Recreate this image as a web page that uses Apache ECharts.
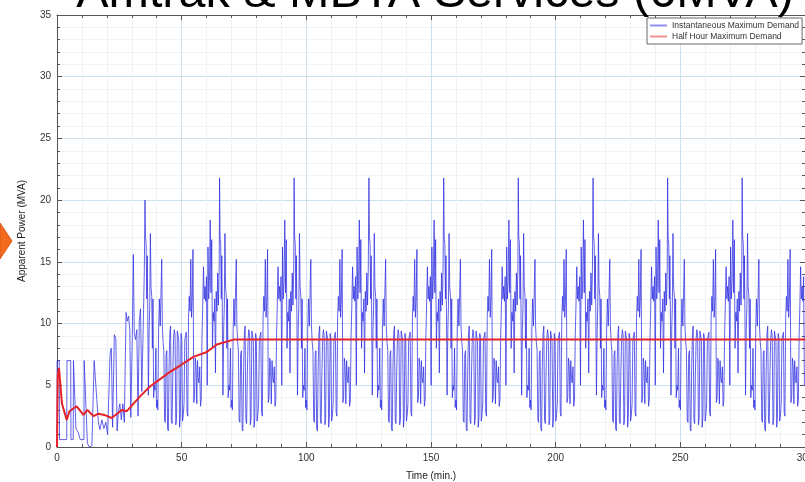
<!DOCTYPE html>
<html>
<head>
<meta charset="utf-8">
<script src="https://cdn.jsdelivr.net/npm/echarts@6/dist/echarts.min.js"></script>
<style>
html,body{margin:0;padding:0;background:#fff;overflow:hidden;width:805px;height:482px;}
#chart{width:805px;height:482px;}
</style>
</head>
<body>
<div id="chart"></div>
<script>
// ---- text ----
const titleText = 'Amtrak & MBTA Services (6MVA)';
const xName = 'Time (min.)';
const yName = 'Apparent Power (MVA)';
const seriesNames = ['Instantaneous Maximum Demand', 'Half Hour Maximum Demand'];

// ---- blue: opening segment (0-35 min) ----
const initTimes  = [0.0, 0.05, 0.9, 1.0, 3.9, 4.0, 5.5, 5.6, 6.5, 6.6, 7.6, 8.5, 9.3, 10.8, 10.9, 12.2, 13.0, 14.0, 14.8, 14.9, 16.6, 17.2, 18.0, 18.8, 19.6, 20.3, 21.3, 21.8, 22.3, 23.0, 23.6, 24.1, 24.6, 25.2, 25.8, 26.4, 27.0, 27.7, 28.2, 28.7, 29.2, 29.6, 30.2, 30.6, 31.0, 31.5, 32.0, 32.5, 33.0, 33.5, 34.0, 34.5, 35.0];
const initValues = [0.0, 7.0, 7.0, 0.6, 0.6, 7.0, 7.0, 0.6, 0.6, 7.0, 1.5, 1.2, 0.6, 0.6, 7.0, 0.3, 0.0, 0.1, 0.2, 7.0, 2.0, 1.4, 2.2, 1.5, 2.0, 1.0, 7.6, 8.0, 1.6, 9.1, 8.8, 1.3, 2.8, 3.5, 2.2, 3.5, 2.0, 10.9, 10.2, 10.6, 9.5, 2.4, 9.0, 15.6, 9.2, 8.7, 9.5, 2.5, 10.2, 11.2, 4.5, 9.0, 14.0];

// ---- blue: one repeating 30-min cycle (offset from its peak) ----
const cycleOffsets = [0.00, 0.20, 0.45, 0.70, 0.90, 1.10, 1.35, 1.65, 1.90, 2.15, 2.40, 2.70, 2.95, 3.20, 3.45, 3.75, 4.05, 4.35, 4.60, 4.90, 5.15, 5.45, 5.75, 6.10, 6.40, 6.70, 6.95, 7.25, 7.55, 7.85, 8.15, 8.45, 8.75, 9.05, 9.35, 9.65, 9.95, 10.25, 10.55, 10.85, 11.15, 11.45, 11.75, 12.05, 12.35, 12.65, 12.95, 13.25, 13.55, 13.85, 14.15, 14.45, 14.75, 15.05, 15.35, 15.65, 15.95, 16.25, 16.55, 16.85, 17.15, 17.45, 17.75, 18.05, 18.35, 18.65, 18.95, 19.25, 19.55, 19.85, 20.15, 20.45, 20.75, 21.05, 21.35, 21.65, 21.95, 22.25, 22.55, 22.85, 23.15, 23.45, 23.75, 24.05, 24.35, 24.65, 24.95, 25.25, 25.55, 25.85, 26.15, 26.45, 26.75, 27.05, 27.35, 27.65, 27.95, 28.25, 28.55, 28.85, 29.15, 29.45, 29.75];
const cycleValues  = [21.8, 17.0, 16.5, 12.0, 15.5, 11.0, 4.2, 9.5, 11.5, 17.3, 13.0, 12.2, 8.0, 12.0, 4.0, 5.0, 4.6, 8.0, 3.2, 3.8, 3.0, 9.5, 12.0, 9.8, 12.5, 15.2, 9.8, 8.5, 7.8, 2.2, 2.0, 7.5, 7.8, 1.5, 1.3, 6.5, 9.2, 9.8, 2.2, 1.9, 6.0, 8.8, 9.5, 9.0, 1.8, 2.3, 9.4, 9.0, 8.6, 1.6, 2.4, 9.2, 8.8, 2.1, 2.6, 3.5, 8.7, 9.0, 9.3, 2.8, 2.5, 10.5, 12.2, 11.0, 15.2, 10.5, 12.0, 16.0, 3.6, 4.0, 7.2, 6.5, 3.5, 7.0, 5.5, 5.2, 6.5, 3.3, 3.8, 9.0, 11.5, 14.6, 12.0, 13.0, 11.8, 13.8, 5.0, 16.2, 12.0, 13.5, 18.4, 12.5, 16.8, 8.0, 10.9, 10.2, 12.0, 6.0, 12.6, 11.0, 14.1, 11.5, 14.5];
const cycleStarts = [35.3, 65.2, 95.1, 125.1, 155.1, 185.0, 215.0, 244.9, 274.8];
const cyclePeaks  = [20.0, 21.8, 21.8, 21.8, 21.8, 21.8, 21.8, 21.8, 21.8];

// ---- red: half hour maximum demand ----
const redTimes  = [0.0, 0.3, 0.8, 2.0, 3.9, 5.0, 7.9, 10.6, 12.2, 14.6, 16.6, 19.0, 21.9, 26.0, 28.0, 30.6, 33.3, 37.3, 40.0, 44.7, 49.4, 54.7, 60.1, 64.1, 70.8, 300.0];
const redValues = [0.0, 5.8, 6.4, 3.5, 2.2, 2.9, 3.3, 2.6, 3.0, 2.5, 2.7, 2.6, 2.35, 3.0, 2.9, 3.5, 4.1, 4.9, 5.3, 6.0, 6.6, 7.3, 7.7, 8.3, 8.7, 8.7];

// ---- axis settings ----
const xMin = 0, xMax = 300, xStep = 50;
const yMin = 0, yMax = 35, yStep = 5;

// build series data from arrays
const blueData = [];
initTimes.forEach((t, i) => blueData.push([t, initValues[i]]));
cycleStarts.forEach((s, c) => {
  cycleOffsets.forEach((o, j) => {
    const t = +(s + o).toFixed(2);
    if (t <= xMax) blueData.push([t, j === 0 ? cyclePeaks[c] : cycleValues[j]]);
  });
});
const redData = redTimes.map((t, i) => [t, redValues[i]]);

const font = 'Liberation Sans, Arial, sans-serif';
const axisCol = '#555';
const chart = echarts.init(document.getElementById('chart'), null, {renderer: 'canvas', width: 805, height: 482});
const boxAxisX = (pos, show) => ({
  type: 'value', min: xMin, max: xMax, interval: xStep, position: pos,
  name: show ? xName : '', nameLocation: 'middle', nameGap: 24,
  nameTextStyle: {fontFamily: font, fontSize: 10, color: '#222'},
  axisLine: {show: true, onZero: false, lineStyle: {color: axisCol, width: 1}},
  axisTick: {show: true, inside: true, length: 5, lineStyle: {color: axisCol}},
  minorTick: {show: true, splitNumber: 5, length: 3, lineStyle: {color: axisCol}},
  axisLabel: {show: show, margin: 6, fontFamily: font, fontSize: 10, color: '#333'},
  splitLine: {show: show, lineStyle: {color: '#cfe1ec', width: 1}},
  minorSplitLine: {show: show, lineStyle: {color: '#eef3f7', width: 1}}
});
const boxAxisY = (pos, show) => ({
  type: 'value', min: yMin, max: yMax, interval: yStep, position: pos,
  name: show ? yName : '', nameLocation: 'middle', nameGap: 30,
  nameTextStyle: {fontFamily: font, fontSize: 10, color: '#222'},
  axisLine: {show: true, onZero: false, lineStyle: {color: axisCol, width: 1}},
  axisTick: {show: true, inside: true, length: 5, lineStyle: {color: axisCol}},
  minorTick: {show: true, splitNumber: 5, length: 3, lineStyle: {color: axisCol}},
  axisLabel: {show: show, margin: 6, fontFamily: font, fontSize: 10, color: '#333'},
  splitLine: {show: show, lineStyle: {color: '#cfe1ec', width: 1}},
  minorSplitLine: {show: show, lineStyle: {color: '#eef3f7', width: 1}}
});

chart.setOption({
  animation: false,
  backgroundColor: '#fff',
  grid: {left: 57, right: 0, top: 15, bottom: 35, containLabel: false, outerBoundsMode: 'none'},
  xAxis: [boxAxisX('bottom', true), boxAxisX('top', false)],
  yAxis: [boxAxisY('left', true), boxAxisY('right', false)],
  legend: {
    orient: 'vertical', left: 647, top: 18,
    itemWidth: 17, itemHeight: 2, itemGap: 2,
    padding: [3, 3, 3, 3],
    borderColor: '#666', borderWidth: 1, backgroundColor: '#fff',
    textStyle: {fontFamily: font, fontSize: 8.5, color: '#333'},
    data: [
      {name: seriesNames[0], icon: 'rect', itemStyle: {color: '#8f8ff2'}},
      {name: seriesNames[1], icon: 'rect', itemStyle: {color: '#f29090'}}
    ]
  },
  graphic: [
    {type: 'text', z: 100,
     style: {text: titleText, x: 435, y: -6, textAlign: 'center', textVerticalAlign: 'middle',
             fontFamily: font, fontSize: 48.5, fill: '#000'}},
    {type: 'polygon', z: 100,
     shape: {points: [[0, 223], [12, 241], [0, 259]]},
     style: {fill: '#f26b1d', stroke: '#d9581a', lineWidth: 1}}
  ],
  series: [
    {name: seriesNames[0], type: 'line', data: blueData, showSymbol: false, symbol: 'none',
     lineStyle: {color: 'rgba(45,45,225,0.75)', width: 1}, itemStyle: {color: '#8f8ff2'}, z: 2},
    {name: seriesNames[1], type: 'line', data: redData, showSymbol: false, symbol: 'none',
     lineStyle: {color: '#e42228', width: 2}, itemStyle: {color: '#f29090'}, z: 3}
  ]
});
</script>
</body>
</html>
